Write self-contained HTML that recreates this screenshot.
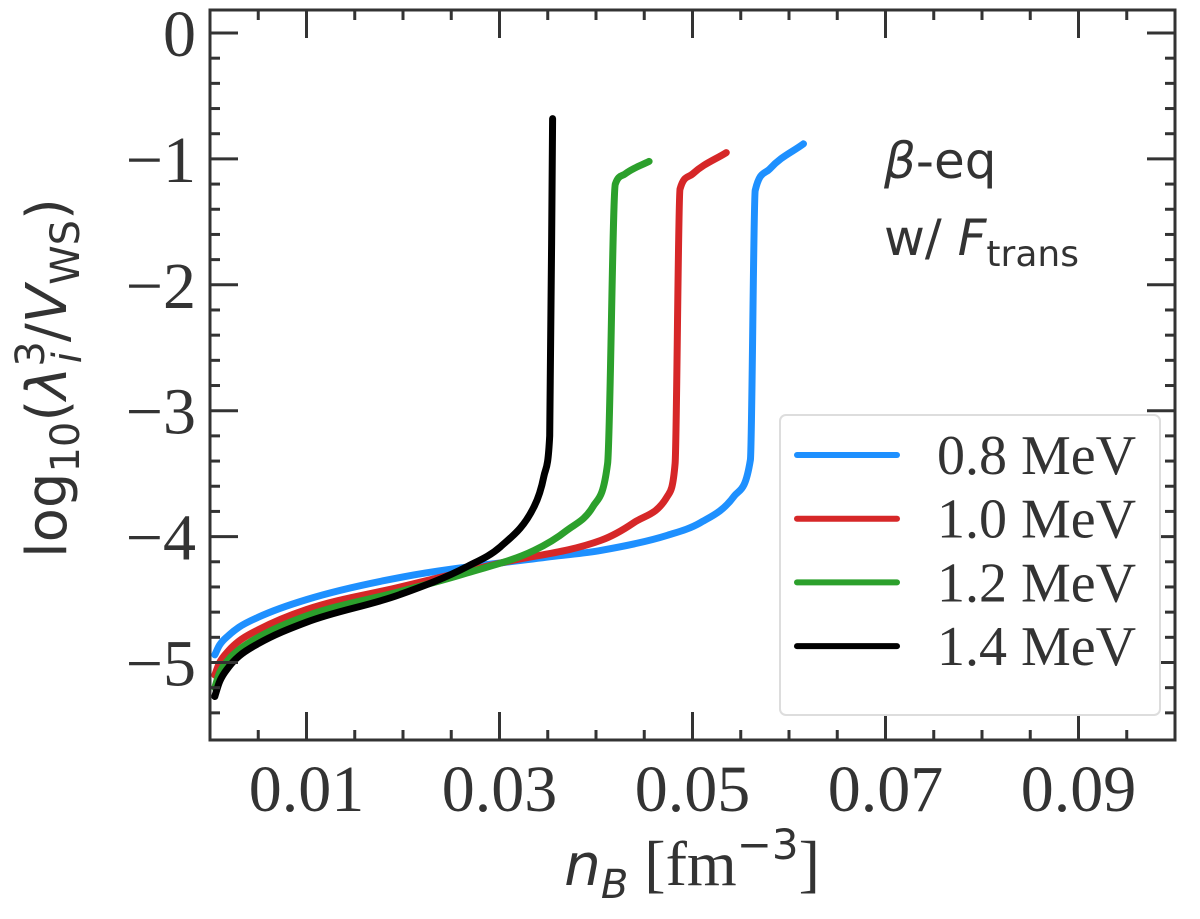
<!DOCTYPE html>
<html><head><meta charset="utf-8"><style>
body{margin:0;background:#fff}
svg text{fill:#333}
.tk{font-family:"Liberation Serif","DejaVu Serif",serif;font-size:66px}
</style></head><body>
<svg id="c" width="1200" height="914" xmlns="http://www.w3.org/2000/svg">
<g id="plot"></g>
<text x="66" y="378" transform="rotate(-90 66 378)" text-anchor="middle" style="font-family:'DejaVu Sans',sans-serif;font-size:56px">log<tspan font-size="40" dy="13">10</tspan><tspan dy="-13">(</tspan><tspan font-style="italic">λ</tspan><tspan font-size="40" dy="-22">3</tspan><tspan font-size="40" font-style="italic" dx="-22" dy="37">i</tspan><tspan dy="-15" dx="10">/</tspan><tspan font-style="italic">V</tspan><tspan font-size="40" dy="13">WS</tspan><tspan dy="-13">)</tspan></text>
<text x="692" y="885" text-anchor="middle" style="font-family:'DejaVu Sans',sans-serif;font-size:58px"><tspan font-style="italic">n</tspan><tspan font-size="40" font-style="italic" dy="13">B</tspan><tspan dy="-13" style="font-family:'Liberation Serif',serif;font-size:64px"> [fm</tspan><tspan font-size="42" dy="-26" style="font-family:'DejaVu Sans',sans-serif">−3</tspan><tspan dy="26" style="font-family:'Liberation Serif',serif;font-size:64px">]</tspan></text>
<text x="884" y="178" style="font-family:'DejaVu Sans',sans-serif;font-size:50px"><tspan font-style="italic">β</tspan>-eq</text>
<text x="884" y="255" style="font-family:'DejaVu Sans',sans-serif;font-size:50px">w/ <tspan font-style="italic">F</tspan><tspan font-size="36" dy="11">trans</tspan></text>
<g id="legend"></g>
</svg>
<script>
const labels=["0.8 MeV","1.0 MeV","1.2 MeV","1.4 MeV"];
const colors=["#1e90ff","#d62728","#2ca02c","#000000"];
const xs0=[0.0005,0.001,0.002,0.003,0.005,0.01,0.02,0.0353,0.0405,0.0474,0.0508,0.0543,0.056,0.0565,0.058,0.0615];
const ys0=[-4.94,-4.86,-4.78,-4.72,-4.64,-4.5,-4.32,-4.16,-4.11,-3.99,-3.89,-3.68,-3.39,-1.25,-1.08,-0.88];
const xs1=[0.0005,0.001,0.002,0.003,0.005,0.01,0.0197,0.0301,0.0405,0.0439,0.0474,0.0482,0.0487,0.05,0.0535];
const ys1=[-5.1,-5.0,-4.9,-4.83,-4.74,-4.58,-4.4,-4.21,-4.03,-3.89,-3.68,-3.42,-1.24,-1.12,-0.95];
const xs2=[0.0005,0.001,0.002,0.003,0.005,0.01,0.02,0.0266,0.0336,0.037,0.0397,0.0412,0.042,0.043,0.0455];
const ys2=[-5.2,-5.08,-4.97,-4.9,-4.8,-4.63,-4.43,-4.29,-4.11,-3.95,-3.76,-3.42,-1.2,-1.12,-1.02];
const xs3=[0.0005,0.001,0.002,0.003,0.005,0.01,0.0197,0.0266,0.0301,0.0336,0.0346,0.0352,0.0355];
const ys3=[-5.27,-5.15,-5.03,-4.95,-4.85,-4.68,-4.46,-4.24,-4.08,-3.76,-3.52,-3.2,-0.68];
const seriesX=[xs0,xs1,xs2,xs3], seriesY=[ys0,ys1,ys2,ys3];
const xTickLabels=["0.01","0.03","0.05","0.07","0.09"];
const yTickLabels=["0","−1","−2","−3","−4","−5"];
const L=210,R=1175,T=10,B=740;
const X=v=>L+v*9650;
const Y=v=>33-v*125.9;
const NS="http://www.w3.org/2000/svg";
const g=document.getElementById('plot');
function mk(t,a,p){const e=document.createElementNS(NS,t);for(const k in a)e.setAttribute(k,a[k]);(p||g).appendChild(e);return e;}
function monotonePath(px,py){
 const n=px.length,d=[],m=new Array(n);
 for(let i=0;i<n-1;i++)d.push((py[i+1]-py[i])/(px[i+1]-px[i]));
 m[0]=d[0];m[n-1]=d[n-2];
 for(let i=1;i<n-1;i++){m[i]=(d[i-1]*d[i]>0)?3*d[i-1]*d[i]/(Math.max(d[i-1],d[i])+2*Math.min(d[i-1],d[i])):0;
  if(d[i-1]<0&&d[i]<0){const a=-d[i-1],b=-d[i];m[i]=-3*a*b/(Math.max(a,b)+2*Math.min(a,b));}}
 let s='M'+px[0].toFixed(1)+','+py[0].toFixed(1);
 for(let i=0;i<n-1;i++){const h=px[i+1]-px[i];
  s+='C'+(px[i]+h/3).toFixed(1)+','+(py[i]+m[i]*h/3).toFixed(1)+' '+(px[i+1]-h/3).toFixed(1)+','+(py[i+1]-m[i+1]*h/3).toFixed(1)+' '+px[i+1].toFixed(1)+','+py[i+1].toFixed(1);}
 return s;}
seriesX.forEach((xs,i)=>{
 const d=monotonePath(xs.map(X),seriesY[i].map(Y));
 const p=mk('path',{d:d,fill:'none',stroke:colors[i],'stroke-width':7,'stroke-linecap':'round','stroke-linejoin':'round'});
 
 
});
const fr=mk('rect',{x:L,y:T,width:R-L,height:B-T,fill:'none',stroke:'#333','stroke-width':3});


for(let k=1;k<20;k++){const v=k*0.005,x=X(v);const major=(k%4==2);const len=major?28:10;
 mk('line',{x1:x,x2:x,y1:B,y2:B-len,stroke:'#333','stroke-width':3});
 mk('line',{x1:x,x2:x,y1:T,y2:T+len,stroke:'#333','stroke-width':3});}
xTickLabels.forEach((s,i)=>{const t=mk('text',{x:X(0.01+0.02*i),y:811,'text-anchor':'middle',class:'tk'});t.textContent=s;
 
 });
for(let k=-28;k<=0;k++){const v=k*0.2,y=Y(v);if(y>B-2)continue;const major=(k%5==0);const len=major?28:10;
 mk('line',{x1:L,x2:L+len,y1:y,y2:y,stroke:'#333','stroke-width':3});
 mk('line',{x1:R,x2:R-len,y1:y,y2:y,stroke:'#333','stroke-width':3});}
yTickLabels.forEach((s,i)=>{const t=mk('text',{x:196,y:Y(-i)+23,'text-anchor':'end',class:'tk'});t.textContent=s;
 
 });
const lg=document.getElementById('legend');
const box=mk('rect',{x:780,y:415,width:380,height:300,rx:6,fill:'#fff',stroke:'#ddd','stroke-width':2},lg);


labels.forEach((s,i)=>{const y=455+i*63.7;
 const ln=mk('line',{x1:797,x2:897,y1:y,y2:y,stroke:colors[i],'stroke-width':6,'stroke-linecap':'round'},lg);
 
 
 const t=mk('text',{x:937,y:y+19,class:'tk',style:'font-size:56px'},lg);t.textContent=s;
 
 });
</script>
</body></html>
